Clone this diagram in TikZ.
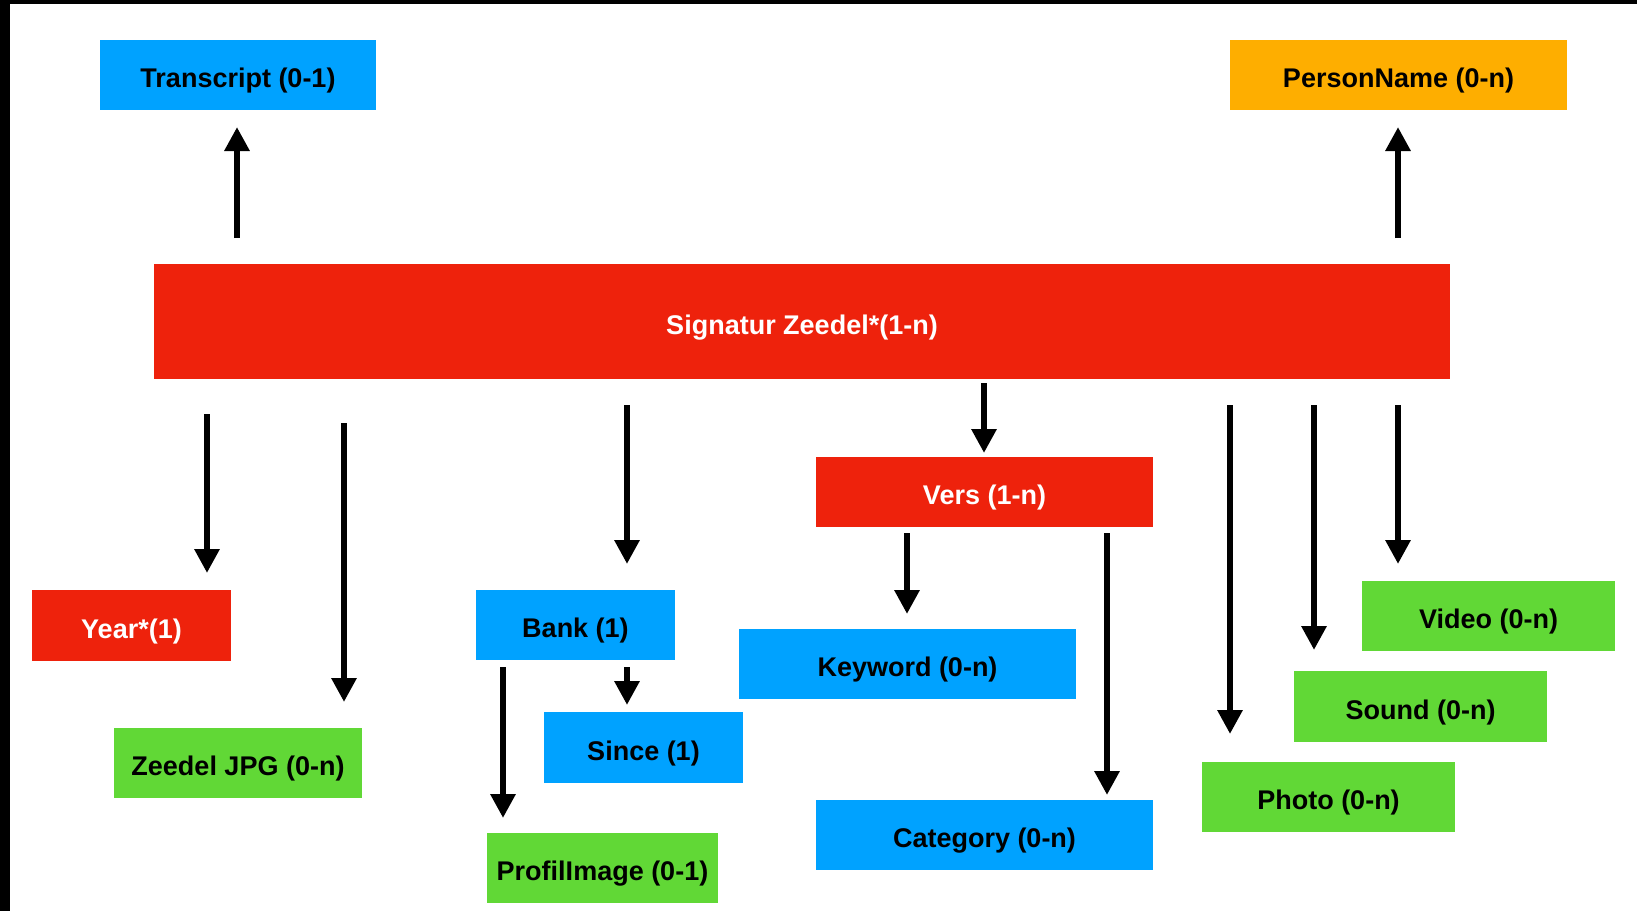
\documentclass[tikz,border=0pt]{standalone}
\usepackage{fontspec}
\setmainfont{Liberation Sans}
\usetikzlibrary{arrows.meta}
\definecolor{kred}{HTML}{EE220C}
\definecolor{kblue}{HTML}{00A2FF}
\definecolor{korange}{HTML}{FEAE00}
\definecolor{kgreen}{HTML}{61D836}
\tikzset{
  box/.style={rectangle, inner sep=0pt, outer sep=0pt, text height=25pt, text depth=0pt, font=\fontsize{27}{32}\selectfont\bfseries, text=black},
  bluebox/.style={box, fill=kblue},
  greenbox/.style={box, fill=kgreen},
  orangebox/.style={box, fill=korange},
  redbox/.style={box, fill=kred, text=white},
  arr/.style={line width=6pt, -{Triangle[width=24pt,length=24pt]}},
}
\begin{document}
\begin{tikzpicture}[x=1pt,y=-1pt]
\useasboundingbox (0,0) rectangle (1637,911);
\fill[black] (0,0) rectangle (10,911);
\fill[black] (0,0) rectangle (1637,4);
% nodes
\node[bluebox, minimum width=276pt, minimum height=70pt] (transcript) at (238,75) {Transcript (0-1)};
\node[orangebox, minimum width=337pt, minimum height=70pt] (person) at (1398.5,75) {PersonName (0-n)};
\node[redbox, minimum width=1296pt, minimum height=115pt] (sig) at (802,321.5) {Signatur Zeedel*(1-n)};
\node[redbox, minimum width=337pt, minimum height=70pt] (vers) at (984.5,492) {Vers (1-n)};
\node[redbox, minimum width=199pt, minimum height=71pt] (year) at (131.5,625.5) {Year*(1)};
\node[greenbox, minimum width=248pt, minimum height=70pt] (zeedel) at (238,763) {Zeedel JPG (0-n)};
\node[bluebox, minimum width=199pt, minimum height=70pt] (bank) at (575.5,625) {Bank (1)};
\node[bluebox, minimum width=199pt, minimum height=71pt] (since) at (643.5,747.5) {Since (1)};
\node[greenbox, minimum width=231pt, minimum height=70pt] (profil) at (602.5,868) {ProfilImage (0-1)};
\node[bluebox, minimum width=337pt, minimum height=70pt] (keyword) at (907.5,664) {Keyword (0-n)};
\node[bluebox, minimum width=337pt, minimum height=70pt] (category) at (984.5,835) {Category (0-n)};
\node[greenbox, minimum width=253pt, minimum height=70pt] (video) at (1488.5,616) {Video (0-n)};
\node[greenbox, minimum width=253pt, minimum height=71pt] (sound) at (1420.5,706.5) {Sound (0-n)};
\node[greenbox, minimum width=253pt, minimum height=70pt] (photo) at (1328.5,797) {Photo (0-n)};
% arrow end points
\coordinate (tS) at (237,238); \coordinate (tE) at (237,127);
\coordinate (pS) at (1398,238); \coordinate (pE) at (1398,127);
\coordinate (yS) at (207,414); \coordinate (yE) at (207,573);
\coordinate (zS) at (344,423); \coordinate (zE) at (344,702);
\coordinate (bS) at (627,405); \coordinate (bE) at (627,564);
\coordinate (vS) at (984,383); \coordinate (vE) at (984,453);
\coordinate (kS) at (907,533); \coordinate (kE) at (907,614);
\coordinate (cS) at (1107,533); \coordinate (cE) at (1107,795);
\coordinate (phS) at (1230,405); \coordinate (phE) at (1230,734);
\coordinate (sS) at (1314,405); \coordinate (sE) at (1314,650);
\coordinate (viS) at (1398,405); \coordinate (viE) at (1398,564);
\coordinate (prS) at (503,667); \coordinate (prE) at (503,818);
\coordinate (siS) at (627,667); \coordinate (siE) at (627,705);
% arrows
\draw[arr] (tS) -- (tE);
\draw[arr] (pS) -- (pE);
\draw[arr] (yS) -- (yE);
\draw[arr] (zS) -- (zE);
\draw[arr] (bS) -- (bE);
\draw[arr] (vS) -- (vE);
\draw[arr] (kS) -- (kE);
\draw[arr] (cS) -- (cE);
\draw[arr] (phS) -- (phE);
\draw[arr] (sS) -- (sE);
\draw[arr] (viS) -- (viE);
\draw[arr] (prS) -- (prE);
\draw[arr] (siS) -- (siE);
\end{tikzpicture}
\end{document}
